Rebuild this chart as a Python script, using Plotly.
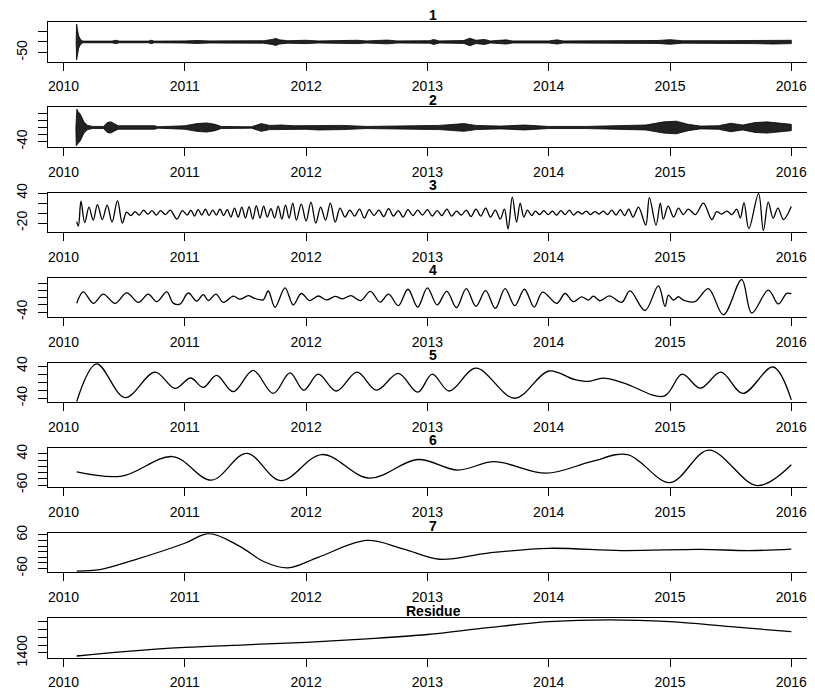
import plotly.graph_objects as go

# page body adds an 8 px margin, so the figure is 8 px smaller and all pixel positions shift by 8
OFF = 8
W, H = 815 - OFF, 693 - OFF

years = [2010, 2011, 2012, 2013, 2014, 2015, 2016]
year_labels = ["2010", "2011", "2012", "2013", "2014", "2015", "2016"]
titles = ["1", "2", "3", "4", "5", "6", "7", "Residue"]

# IMF 1 and 2: oscillation envelopes (dense oscillation, read as band half-width)
imf1_t = [2010.104, 2010.108, 2010.115, 2010.125, 2010.14, 2010.16, 2010.40, 2010.43, 2010.46, 2010.70, 2010.72,
          2010.75, 2011.0, 2011.1, 2011.2, 2011.5, 2011.65, 2011.72, 2011.75, 2011.78, 2011.85, 2012.0, 2012.1,
          2012.42, 2012.5, 2012.67, 2012.75, 2013.02, 2013.05, 2013.1, 2013.3, 2013.35, 2013.4, 2013.47, 2013.52,
          2013.65, 2013.7, 2014.0, 2014.07, 2014.12, 2014.5, 2014.9, 2015.0, 2015.1, 2015.4, 2015.7, 2015.85, 2016.0]
imf1_amp = [0, 86, 60, 30, 12, 4, 4, 8, 4, 4, 8,
            4, 5, 7, 5, 5, 6, 12, 17, 10, 6, 8, 5,
            8, 5, 9, 5, 6, 12, 5, 7, 18, 8, 12, 5,
            10, 5, 5, 10, 5, 6, 7, 11, 6, 6, 8, 10, 8]

imf2_t = [2010.102, 2010.105, 2010.11, 2010.12, 2010.135, 2010.15, 2010.17, 2010.2, 2010.24, 2010.33, 2010.36,
          2010.39, 2010.42, 2010.45, 2010.6, 2010.75, 2010.78, 2010.9, 2011.0, 2011.1, 2011.18, 2011.25, 2011.3,
          2011.55, 2011.6, 2011.63, 2011.7, 2011.8, 2011.9, 2012.0, 2012.1, 2012.3, 2012.5, 2012.7, 2012.9,
          2013.1, 2013.3, 2013.4, 2013.6, 2013.8, 2014.0, 2014.3, 2014.6, 2014.8, 2014.95, 2015.05, 2015.15,
          2015.25, 2015.4, 2015.5, 2015.6, 2015.7, 2015.8, 2015.9, 2016.0]
imf2_amp = [0, 52, 52, 45, 40, 30, 15, 6, 3, 3, 14,
            16, 10, 5, 5, 5, 2, 3, 5, 11, 13, 9, 3,
            2, 8, 11, 6, 7, 5, 5, 7, 6, 3, 3, 5,
            6, 11, 6, 4, 7, 3, 3, 5, 7, 16, 18, 9,
            4, 5, 12, 7, 14, 16, 12, 9]

# IMF 3..7 and residue: extrema / key points
imf3_t = [2010.109, 2010.123, 2010.144, 2010.175, 2010.21, 2010.245, 2010.28, 2010.32, 2010.36, 2010.40, 2010.445, 2010.485,
          2010.52, 2010.555, 2010.59, 2010.625, 2010.66, 2010.695, 2010.73, 2010.765, 2010.80, 2010.84, 2010.88, 2010.935,
          2010.98, 2011.02, 2011.05, 2011.08, 2011.11, 2011.14, 2011.17, 2011.20, 2011.23, 2011.26, 2011.29, 2011.32,
          2011.35, 2011.38, 2011.41, 2011.44, 2011.47, 2011.50, 2011.53, 2011.56, 2011.59, 2011.62, 2011.65, 2011.68,
          2011.71, 2011.74, 2011.77, 2011.80, 2011.83, 2011.86, 2011.89, 2011.92,
          2011.96, 2012.00, 2012.04, 2012.08, 2012.12, 2012.16, 2012.20, 2012.24, 2012.28, 2012.32, 2012.36, 2012.40,
          2012.44, 2012.48, 2012.52, 2012.56, 2012.60, 2012.64, 2012.68, 2012.72, 2012.76, 2012.80, 2012.84, 2012.88,
          2012.92, 2012.96, 2013.00, 2013.04, 2013.08, 2013.12, 2013.16, 2013.20, 2013.24, 2013.28, 2013.32, 2013.36,
          2013.40, 2013.44, 2013.48, 2013.52, 2013.56, 2013.60, 2013.635, 2013.665, 2013.70, 2013.735, 2013.765, 2013.795,
          2013.825, 2013.86, 2013.89, 2013.925, 2013.96, 2013.995,
          2014.03, 2014.065, 2014.10, 2014.135, 2014.17, 2014.205, 2014.24, 2014.275, 2014.31, 2014.345, 2014.38, 2014.415,
          2014.45, 2014.485, 2014.52, 2014.555, 2014.59, 2014.625, 2014.66, 2014.695, 2014.74, 2014.80, 2014.83, 2014.885,
          2014.92, 2014.945, 2014.985, 2015.03, 2015.07, 2015.11, 2015.15, 2015.21, 2015.275, 2015.345, 2015.385, 2015.425,
          2015.47, 2015.51, 2015.55, 2015.58, 2015.61, 2015.65, 2015.73, 2015.77, 2015.81, 2015.85, 2015.89, 2015.935, 2016.0]
imf3_v = [-17, -26, 24, -19, 12, -14, 17, -13, 16, -18, 25, -20,
          2, -5, 3, -4, 6, -2, 5, -4, 5, -3, 6, -12,
          5, -4, 6, -6, 7, -4, 8, -5, 6, -4, 8, -5,
          7, -8, 10, -8, 12, -10, 13, -12, 15, -10, 14, -8,
          9, -10, 14, -12, 16, -10, 20, -14,
          18, -16, 22, -20, 12, -14, 20, -18, 10, -8, 6, -6,
          8, -10, 7, -5, 6, -7, 9, -6, 5, -8, 7, -5,
          6, -4, 7, -6, 5, -5, 8, -6, 4, -4, 6, -7,
          8, -6, 10, -8, 6, -12, 8, -32, 32, -18, 20, -8,
          6, -5, 4, -3, 5, -3,
          4, -4, 5, -3, 6, -4, 3, -2, 4, -3, 3, -2,
          4, -3, 6, -4, 7, -5, 8, -8, 12, -24, 31, -24,
          20, -12, 14, -8, 10, -3, 8, -3, 20, -13, 3, -2,
          4, -3, 8, -10, 21, -31, 39, -35, 22, -10, 10, -13, 13]

imf4_t = [2010.109, 2010.163, 2010.246, 2010.328, 2010.425, 2010.521, 2010.617, 2010.699, 2010.768, 2010.851, 2010.905,
          2010.96, 2011.029, 2011.098, 2011.153, 2011.194, 2011.257, 2011.317, 2011.40, 2011.455, 2011.524, 2011.565,
          2011.606, 2011.647, 2011.688, 2011.744, 2011.826, 2011.894,
          2011.96, 2012.03, 2012.10, 2012.17, 2012.24, 2012.30, 2012.37, 2012.45, 2012.53, 2012.61, 2012.68, 2012.76,
          2012.84, 2012.92, 2013.0, 2013.08, 2013.16, 2013.24, 2013.32, 2013.40, 2013.48, 2013.56, 2013.64, 2013.72,
          2013.80, 2013.88, 2013.95,
          2014.066, 2014.135, 2014.203, 2014.272, 2014.327, 2014.368, 2014.423, 2014.50, 2014.602, 2014.67, 2014.794,
          2014.904, 2014.959, 2014.987, 2015.028, 2015.069, 2015.11, 2015.206, 2015.316, 2015.44, 2015.591, 2015.674,
          2015.811, 2015.893, 2015.962, 2016.0]
imf4_v = [-15.6, 16.6, -15.6, 10.5, -15.6, 14, -13, 10.5, -11, 16.6, -15,
          -18, 13.5, -9, 9, -8, 10.5, -13, 4.6, -4, 6, 0,
          -4.6, -6, 19, -26.7, 28, -20,
          12, -8, 5, -6, 4, -3, 6, -8, 18, -12, 10, -22,
          24, -26, 28, -20, 18, -28, 26, -24, 20, -30, 26, -22,
          24, -26, 16,
          -15.6, 12.1, -11, 2.7, -6.4, 4.6, -8.3, 5.5, -12.8, 19.4, -35.8,
          33.2, -24.7, 7.5, -6.4, 2.9, -6.4, -11, 25.9, -47.8, 50.8, -43.2,
          21.3, -17.4, 12.4, 11.8]

imf5_t = [2010.109, 2010.273, 2010.507, 2010.754, 2010.919, 2011.048, 2011.152, 2011.262, 2011.40, 2011.564, 2011.729,
          2011.867, 2011.98, 2012.10, 2012.25, 2012.42, 2012.58, 2012.76, 2012.92, 2013.04, 2013.18, 2013.40, 2013.72,
          2014.00, 2014.20, 2014.32, 2014.45, 2014.62, 2014.95, 2015.10, 2015.25, 2015.42, 2015.60, 2015.85, 2016.0]
imf5_v = [-48, 45.8, -38.4, 25.3, -15.5, 10.5, -13, 17, -23.7, 29.4, -28,
          23.5, -20, 20, -22, 25, -20, 22, -25, 20, -22, 35, -40,
          28, 8, 2, 10, -2, -35, 20, -15, 25, -28, 38, -44]

imf6_t = [2010.109, 2010.48, 2010.90, 2011.22, 2011.51, 2011.79, 2012.13, 2012.52, 2012.92, 2013.25, 2013.55, 2013.98,
          2014.35, 2014.65, 2015.0, 2015.32, 2015.72, 2016.0]
imf6_v = [-17.9, -31.6, 31.5, -44.2, 42, -46, 38, -38, 22, -12, 15, -22,
          15, 38, -52, 52, -62, 5]

imf7_t = [2010.109, 2010.3, 2010.58, 2011.0, 2011.2, 2011.45, 2011.65, 2011.85, 2012.1, 2012.5, 2012.8, 2013.1,
          2013.5, 2014.0, 2014.6, 2015.25, 2015.65, 2016.0]
imf7_v = [-69, -64, -30, 30, 64, 20, -35, -58, -20, 40, 10, -27,
          -5, 12, 4, 8, 4, 9]

res_t = [2010.109, 2010.5, 2011.0, 2011.5, 2012.0, 2012.5, 2013.0, 2013.5, 2014.0, 2014.5, 2015.0, 2015.5, 2016.0]
res_v = [1380, 1408, 1435, 1452, 1468, 1490, 1518, 1562, 1600, 1612, 1600, 1568, 1536]

# y axes: ranges, ticks, tick labels
y_ranges = [[-94, 94], [-54.7, 57], [-37.7, 41], [-54.1, 56.4], [-49.8, 48.3], [-67.3, 59], [-74, 66], [1370, 1622]]
y_ticks = [[-50, 0, 50], [-40, -20, 0, 20, 40], [-20, 0, 20, 40], [-40, -20, 0, 20, 40], [-40, -20, 0, 20, 40],
           [-60, -40, -20, 0, 20, 40], [-60, -40, -20, 0, 20, 40, 60], [1400, 1450, 1500, 1550, 1600]]
y_ticktext = [["-50", "", ""], ["-40", "", "", "", ""], ["-20", "", "", "40"], ["-40", "", "", "", ""],
              ["-40", "", "", "", "40"], ["-60", "", "", "", "", "40"], ["-60", "", "", "", "", "", "60"],
              ["1400", "", "", "", ""]]

FONT = "Liberation Sans, Arial, sans-serif"
BLACK = "#000000"

# reference pixel geometry (screen coordinates), converted to figure coordinates below
left_px = 48.0 - OFF
tick2010_px = 63.5 - OFF
x_per_year = 121.3
x0_year = 2010 - (tick2010_px - left_px) / x_per_year
x1_year = 2010 + (W - tick2010_px) / x_per_year

fig = go.Figure()
layout = dict(width=W, height=H, margin=dict(l=0, r=0, t=0, b=0, autoexpand=False), paper_bgcolor="white",
              plot_bgcolor="white", showlegend=False, font=dict(family=FONT, size=14, color=BLACK))
annotations = []

for i in range(8):
    top_px = 22.3 + 85.14 * i - OFF
    bot_px = top_px + 39.3
    xa = "xaxis" if i == 0 else f"xaxis{i+1}"
    ya = "yaxis" if i == 0 else f"yaxis{i+1}"
    xr = "x" if i == 0 else f"x{i+1}"
    yr = "y" if i == 0 else f"y{i+1}"
    layout[xa] = dict(domain=[left_px / W, 1], range=[x0_year, x1_year], anchor=yr, automargin=False,
                      tickmode="array", tickvals=years, ticktext=year_labels,
                      ticks="outside", ticklen=8, tickwidth=1, tickcolor=BLACK,
                      showline=True, linecolor=BLACK, linewidth=1, mirror=True,
                      showgrid=False, zeroline=False, ticklabelstandoff=4,
                      tickfont=dict(family=FONT, size=14, color=BLACK))
    layout[ya] = dict(domain=[1 - bot_px / H, 1 - top_px / H], range=y_ranges[i], anchor=xr, automargin=False,
                      tickmode="array", tickvals=y_ticks[i], ticktext=y_ticktext[i],
                      ticks="outside", ticklen=9, tickwidth=1, tickcolor=BLACK, tickangle=-90,
                      showline=True, linecolor=BLACK, linewidth=1, mirror=False,
                      showgrid=False, zeroline=False, ticklabelstandoff=5,
                      tickfont=dict(family=FONT, size=14, color=BLACK))
    annotations.append(dict(text=f"<b>{titles[i]}</b>", xref="paper", yref="paper",
                            x=(433 - OFF) / W, y=1 - (top_px - 7.5) / H, xanchor="center", yanchor="middle",
                            showarrow=False, font=dict(family=FONT, size=14, color=BLACK)))

    if i in (0, 1):
        t = imf1_t if i == 0 else imf2_t
        a = imf1_amp if i == 0 else imf2_amp
        fig.add_trace(go.Scatter(x=t + t[::-1], y=a + [-v for v in a[::-1]], mode="lines",
                                 fill="toself", fillcolor="#222222", line=dict(color=BLACK, width=0.8),
                                 xaxis=xr, yaxis=yr, hoverinfo="skip"))
    else:
        t, v = [(imf3_t, imf3_v), (imf4_t, imf4_v), (imf5_t, imf5_v), (imf6_t, imf6_v),
                (imf7_t, imf7_v), (res_t, res_v)][i - 2]
        fig.add_trace(go.Scatter(x=t, y=v, mode="lines", line=dict(color=BLACK, width=1.3, shape="spline", smoothing=1),
                                 xaxis=xr, yaxis=yr, hoverinfo="skip"))

layout["annotations"] = annotations
fig.update_layout(**layout)
fig.write_html("out.html")
